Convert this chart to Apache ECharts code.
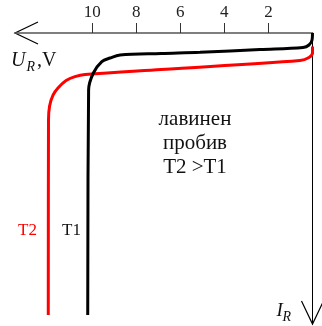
<!DOCTYPE html>
<html>
<head>
<meta charset="utf-8">
<script src="https://cdn.jsdelivr.net/npm/echarts@6/dist/echarts.min.js"></script>
<style>
  html, body { margin: 0; padding: 0; background: #fff; }
  #chart { width: 322px; height: 326px; }
</style>
</head>
<body>
<div id="chart"></div>
<script>
// Reverse-bias characteristics of a diode at two temperatures (avalanche breakdown).
// Voltage U_R in volts grows to the left, current I_R grows downward.
const tickValues = [2, 4, 6, 8, 10];

// T1 (lower temperature)
const t1Voltage = [0.00, 0.02, 0.16, 0.43, 2.38, 5.10, 6.87, 8.73, 9.19, 9.56, 9.95, 10.16, 10.20];
const t1Current = [0.00, 0.72, 1.24, 1.49, 1.70, 1.99, 2.11, 2.27, 2.58, 2.96, 4.15, 5.88, 29.07];

// T2 (higher temperature)
const t2Voltage = [0.00, 0.00, 0.16, 0.57, 6.87, 10.32, 10.78, 11.18, 11.55, 11.77, 11.93, 11.98, 11.99];
const t2Current = [1.39, 2.06, 2.53, 2.84, 3.76, 4.28, 4.50, 4.90, 5.67, 6.39, 7.53, 8.97, 29.07];

const voltageMax = 13.5;
const currentMax = 30;

const serif = 'Liberation Serif';

function pairs(xs, ys) {
  return xs.map((x, i) => [x, ys[i]]);
}

const chart = echarts.init(document.getElementById('chart'), null, { renderer: 'canvas' });

chart.setOption({
  animation: false,
  backgroundColor: '#ffffff',
  grid: { left: 15, right: 9.5, top: 33, bottom: 2, containLabel: false },
  xAxis: {
    type: 'value',
    position: 'top',
    inverse: true,
    min: 0,
    max: voltageMax,
    axisLine: { show: true, onZero: false, lineStyle: { color: '#555', width: 1.5 } },
    axisTick: { show: true, inside: false, length: 10, customValues: tickValues,
                lineStyle: { color: '#333', width: 1 } },
    axisLabel: { show: true, customValues: tickValues, margin: 12,
                 fontFamily: serif, fontSize: 17, color: '#222' },
    splitLine: { show: false }
  },
  yAxis: {
    type: 'value',
    position: 'right',
    inverse: true,
    min: 0,
    max: currentMax,
    axisLine: { show: true, onZero: false, lineStyle: { color: '#000', width: 1 } },
    axisTick: { show: false },
    axisLabel: { show: false },
    splitLine: { show: false }
  },
  series: [
    {
      name: 'T2',
      type: 'line',
      data: pairs(t2Voltage, t2Current),
      smooth: 0.35,
      symbol: 'none',
      clip: false,
      lineStyle: { color: '#ff0000', width: 3 },
      z: 2
    },
    {
      name: 'T1',
      type: 'line',
      data: pairs(t1Voltage, t1Current),
      smooth: 0.35,
      symbol: 'none',
      clip: false,
      lineStyle: { color: '#000000', width: 3 },
      z: 3
    }
  ]
});

// Open arrow heads at the far ends of both axes, plus the text labels.
const tipX = chart.convertToPixel({ gridIndex: 0 }, [voltageMax, 0]);
const tipY = chart.convertToPixel({ gridIndex: 0 }, [0, currentMax]);
const arrowLen = 23, arrowHalf = 11;

const arrowStyle = { stroke: '#000', lineWidth: 1.2, fill: null };

chart.setOption({
  graphic: [
    {
      type: 'polyline',
      shape: { points: [[tipX[0] + arrowLen, tipX[1] - arrowHalf], [tipX[0], tipX[1]], [tipX[0] + arrowLen, tipX[1] + arrowHalf]] },
      style: arrowStyle, silent: true
    },
    {
      type: 'polyline',
      shape: { points: [[tipY[0] - arrowHalf, tipY[1] - arrowLen], [tipY[0], tipY[1]], [tipY[0] + arrowHalf, tipY[1] - arrowLen]] },
      style: arrowStyle, silent: true
    },
    // axis name U_R, V
    { type: 'text', x: 11, y: 60.5, style: { text: 'U', font: 'italic 20px "' + serif + '"', fill: '#111', align: 'left', verticalAlign: 'middle' } },
    { type: 'text', x: 26.5, y: 67, style: { text: 'R', font: 'italic 14px "' + serif + '"', fill: '#111', align: 'left', verticalAlign: 'middle' } },
    { type: 'text', x: 37, y: 60.5, style: { text: ',V', font: '20px "' + serif + '"', fill: '#111', align: 'left', verticalAlign: 'middle' } },
    // axis name I_R
    { type: 'text', x: 276.5, y: 311, style: { text: 'I', font: 'italic 19px "' + serif + '"', fill: '#111', align: 'left', verticalAlign: 'middle' } },
    { type: 'text', x: 282.5, y: 317.5, style: { text: 'R', font: 'italic 14px "' + serif + '"', fill: '#111', align: 'left', verticalAlign: 'middle' } },
    // curve labels
    { type: 'text', x: 27.5, y: 231, style: { text: 'T2', font: '17px "' + serif + '"', fill: '#ff0000', align: 'center', verticalAlign: 'middle' } },
    { type: 'text', x: 71.5, y: 231, style: { text: 'T1', font: '17px "' + serif + '"', fill: '#111', align: 'center', verticalAlign: 'middle' } },
    // annotation
    { type: 'text', x: 195, y: 143.5, style: { text: 'лавинен\nпробив\nT2 >T1', font: '21px "' + serif + '"', lineHeight: 24, fill: '#111', align: 'center', verticalAlign: 'middle' } }
  ]
});
</script>
</body>
</html>
